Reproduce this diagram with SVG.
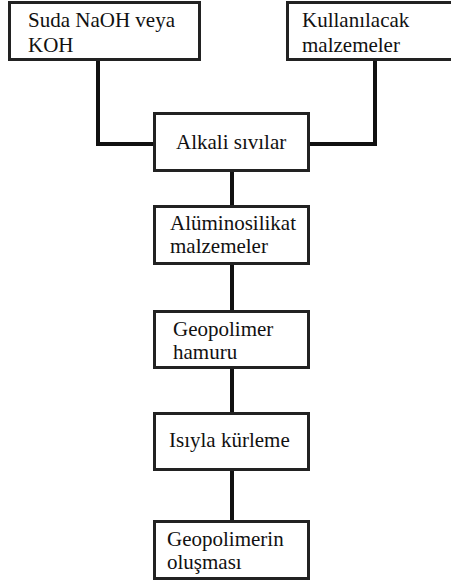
<svg xmlns="http://www.w3.org/2000/svg" width="451" height="582" viewBox="0 0 451 582">
<style>
.box{fill:#fff;stroke:#222;stroke-width:3}
.ln{fill:none;stroke:#111;stroke-width:4}
.t{font-family:"Liberation Serif","Times New Roman",serif;font-size:21px;fill:#111}
</style>
<rect width="451" height="582" fill="#fff"/>
<g id="connectors">
<path class="ln" d="M98 59 V144 H154"/>
<path class="ln" d="M375 59 V144 H308"/>
<path class="ln" d="M232 170 V206"/>
<path class="ln" d="M232 263 V311"/>
<path class="ln" d="M232 367 V413"/>
<path class="ln" d="M232 469 V521"/>
</g>
<g font-family="Liberation Serif, serif">
<g id="n1"><rect class="box" x="9.5" y="2.5" width="190" height="57"/><text class="t" x="28" y="27">Suda NaOH veya</text><text class="t" x="28" y="52">KOH</text></g>
<g id="n2"><rect class="box" x="287.5" y="2.5" width="166" height="57"/><text class="t" x="302" y="27">Kullanılacak</text><text class="t" x="302" y="52">malzemeler</text></g>
<g id="n3"><rect class="box" x="154.5" y="113.5" width="154" height="57"/><text class="t" x="176" y="149">Alkali sıvılar</text></g>
<g id="n4"><rect class="box" x="154.5" y="206.5" width="154" height="57"/><text class="t" x="170" y="230">Alüminosilikat</text><text class="t" x="170" y="253">malzemeler</text></g>
<g id="n5"><rect class="box" x="154.5" y="311.5" width="154" height="56"/><text class="t" x="173" y="336">Geopolimer</text><text class="t" x="173" y="359">hamuru</text></g>
<g id="n6"><rect class="box" x="154.5" y="413.5" width="154" height="56"/><text class="t" x="169" y="447">Isıyla kürleme</text></g>
<g id="n7"><rect class="box" x="154.5" y="521.5" width="154" height="57"/><text class="t" x="167" y="546">Geopolimerin</text><text class="t" x="167" y="569">oluşması</text></g>
</g>
</svg>
